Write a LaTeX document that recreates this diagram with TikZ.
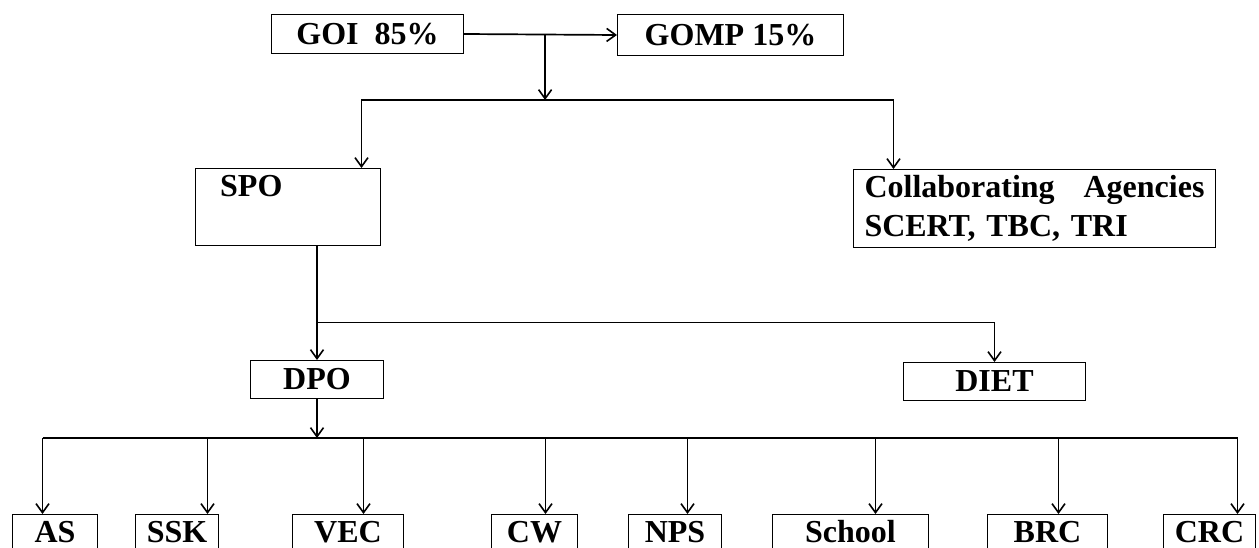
\documentclass[tikz,border=0pt]{standalone}
\usepackage{fontspec}
\setmainfont{Liberation Serif}
\usetikzlibrary{arrows.meta, positioning, calc}

\begin{document}
\begin{tikzpicture}[
    x=1pt, y=-1pt,
    box/.style={draw, line width=1pt, rectangle, inner sep=0pt, font=\fontsize{32}{39}\selectfont\bfseries, anchor=north west},
    leaf/.style={box, minimum height=34pt, text height=22pt, text depth=0pt},
    tag/.style={inner sep=0pt, font=\fontsize{32}{39}\selectfont\bfseries, anchor=north west},
    arr/.style={line width=1.7pt, -{Straight Barb[length=9pt, width=13pt, line width=1.6pt]}},
    bus/.style={line width=1.7pt}
]

\useasboundingbox (0,0) rectangle (1259,548);

\node[box, minimum width=192pt, minimum height=39pt] (goi) at (271,14) {GOI~~85\%};
\node[box, minimum width=226pt, minimum height=41pt] (gomp) at (617,14) {GOMP 15\%};
\node[box, minimum width=185pt, minimum height=77pt] (spo) at (195,168) {};
\node[tag] (spoText) at ([xshift=25pt, yshift=-7pt]spo.north west) {SPO};
\node[box, minimum width=362pt, minimum height=78pt, text width=340pt, align=left] (collab) at (853,169) {Collaborating\hfill Agencies\\SCERT, TBC, TRI};
\node[box, minimum width=133pt, minimum height=38pt] (dpo) at (250,360) {DPO};
\node[box, minimum width=182pt, minimum height=38pt] (diet) at (903,362) {DIET};

\node[leaf, minimum width=85pt] (as) at (12,514) {AS};
\node[leaf, minimum width=83pt] (ssk) at (135,514) {SSK};
\node[leaf, minimum width=111pt] (vec) at (292,514) {VEC};
\node[leaf, minimum width=86pt] (cw) at (491,514) {CW};
\node[leaf, minimum width=93pt] (nps) at (628,514) {NPS};
\node[leaf, minimum width=156pt] (school) at (772,514) {School};
\node[leaf, minimum width=120pt] (brc) at (987,514) {BRC};
\node[leaf, minimum width=92pt] (crc) at (1163,514) {CRC};

\coordinate (busTop) at (0,100);
\coordinate (busLow) at (0,438);
\coordinate (split) at ($(goi.east)!0.53!(gomp.west)$);
\coordinate (branch) at ($(spo.south -| dpo.north)!0.67!(dpo.north)$);

\draw[arr] (goi.east) -- (gomp.west);
\draw[arr] (split) -- (split |- busTop);
\draw[arr] (split |- busTop) -| ([xshift=73.5pt]spo.north);
\draw[arr] (split |- busTop) -| ([xshift=-141pt]collab.north);

\draw[arr] (spo.south -| dpo.north) -- (dpo.north);
\draw[arr] (branch) -| (diet.north);

\draw[arr] (dpo.south) -- (dpo.south |- busLow);
\draw[bus] ([xshift=-12.5pt]as.north |- busLow) -- ([xshift=28pt]crc.north |- busLow);
\foreach \n/\dx in {as/-12.5, ssk/30.5, vec/15.5, cw/11, nps/12.5, school/25, brc/11, crc/28}
    \draw[arr] ([xshift=\dx pt]\n.north |- busLow) -- ([xshift=\dx pt]\n.north);

\end{tikzpicture}
\end{document}
